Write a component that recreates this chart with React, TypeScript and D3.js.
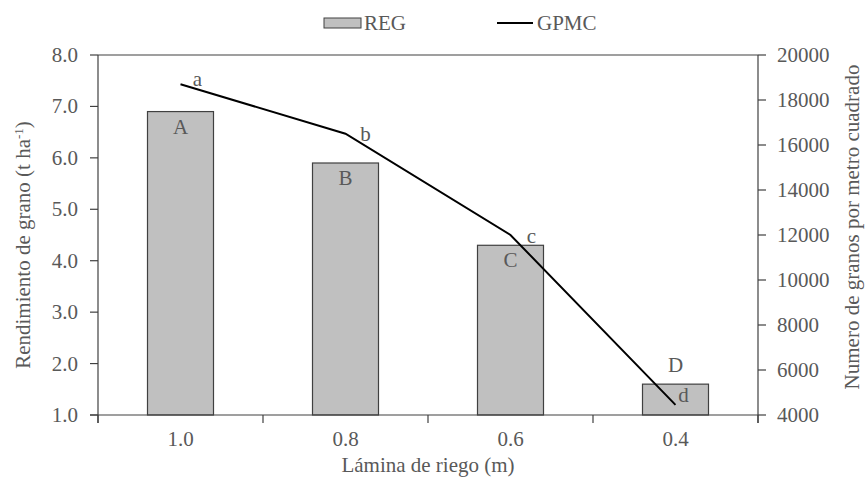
import React from "react";
import * as d3 from "d3";

const categories = ["1.0", "0.8", "0.6", "0.4"];
const regValues = [6.9, 5.9, 4.3, 1.6];
const gpmcValues = [18700, 16500, 12000, 4450];
const barLetters = ["A", "B", "C", "D"];
const lineLetters = ["a", "b", "c", "d"];
const leftTicks = [1, 2, 3, 4, 5, 6, 7, 8];
const rightTicks = [4000, 6000, 8000, 10000, 12000, 14000, 16000, 18000, 20000];

const W = 866, H = 477;
const M = { left: 98, right: 758, top: 55, bottom: 415 };
const FONT = "'Liberation Serif', 'Times New Roman', Times, serif";
const TXT = "#595959";
const AX = "#404040";
const FS = 21;

// label placement (styling, not data)
const barLabelAbove = [false, false, false, true];
const lineLabelDx = [17, 20, 21, 8];
const lineLabelDy = [2, 7, 8, -3];

export default function App() {
  const xOuter = d3.scaleBand<string>().domain(categories).range([M.left, M.right]);
  const yL = d3.scaleLinear().domain([1, 8]).range([M.bottom, M.top]);
  const yR = d3.scaleLinear().domain([4000, 20000]).range([M.bottom, M.top]);
  const cxOf = (i: number) => (xOuter(categories[i]) as number) + xOuter.bandwidth() / 2;
  const line = d3
    .line<number>()
    .x((_, i) => cxOf(i))
    .y((d) => yR(d));
  const bw = xOuter.bandwidth() * 0.4;
  const boundaries = [...categories.map((c) => xOuter(c) as number), M.right];
  const ts = { fontFamily: FONT };

  return (
    <svg width={W} height={H} style={{ position: "absolute", left: 0, top: 0, fontFamily: FONT }}>
      <rect width={W} height={H} fill="#fff" />
      {/* legend */}
      <rect x={324} y={18} width={37} height={10} fill="#c0c0c0" stroke={AX} strokeWidth={1} />
      <text x={364} y={30} fontSize={FS} fill={TXT} style={ts}>REG</text>
      <line x1={497} x2={533} y1={23} y2={23} stroke="#000" strokeWidth={2} />
      <text x={537} y={30} fontSize={FS} fill={TXT} style={ts}>GPMC</text>

      {/* bars */}
      {regValues.map((v, i) => {
        const cx = cxOf(i);
        return (
          <g key={i}>
            <rect x={cx - bw / 2} y={yL(v)} width={bw} height={yL(1) - yL(v)} fill="#c0c0c0" stroke={AX} strokeWidth={1.2} />
            <text x={cx} y={barLabelAbove[i] ? yL(v) - 12 : yL(v) + 22} fontSize={FS} fill={TXT} textAnchor="middle" style={ts}>
              {barLetters[i]}
            </text>
          </g>
        );
      })}

      {/* frame */}
      <line x1={M.left} x2={M.right} y1={M.top} y2={M.top} stroke={AX} strokeWidth={1.2} />
      <line x1={M.left - 8} x2={M.right} y1={M.bottom} y2={M.bottom} stroke={AX} strokeWidth={1.2} />
      <line x1={M.left} x2={M.left} y1={M.top} y2={M.bottom + 8} stroke={AX} strokeWidth={1.2} />
      <line x1={M.right} x2={M.right} y1={M.top} y2={M.bottom + 8} stroke={AX} strokeWidth={1.2} />

      {/* left ticks */}
      {leftTicks.map((t) => (
        <g key={t}>
          <line x1={M.left - 8} x2={M.left} y1={yL(t)} y2={yL(t)} stroke={AX} strokeWidth={1.2} />
          <text x={78} y={yL(t) + 7} fontSize={FS} fill={TXT} textAnchor="end" style={ts}>{t.toFixed(1)}</text>
        </g>
      ))}
      {/* right ticks */}
      {rightTicks.map((t) => (
        <g key={t}>
          <line x1={M.right} x2={M.right + 8} y1={yR(t)} y2={yR(t)} stroke={AX} strokeWidth={1.2} />
          <text x={777} y={yR(t) + 7} fontSize={FS} fill={TXT} style={ts}>{t}</text>
        </g>
      ))}
      {/* x ticks */}
      {boundaries.map((b, i) => (
        <line key={i} x1={b} x2={b} y1={M.bottom} y2={M.bottom + 8} stroke={AX} strokeWidth={1.2} />
      ))}
      {categories.map((c, i) => (
        <text key={c} x={cxOf(i)} y={446} fontSize={FS} fill={TXT} textAnchor="middle" style={ts}>
          {c}
        </text>
      ))}

      {/* line */}
      <path d={line(gpmcValues) || ""} fill="none" stroke="#000" strokeWidth={2} />
      {gpmcValues.map((v, i) => (
        <text key={i} x={cxOf(i) + lineLabelDx[i]} y={yR(v) + lineLabelDy[i]} fontSize={FS} fill={TXT} textAnchor="middle" style={ts}>
          {lineLetters[i]}
        </text>
      ))}

      {/* axis titles */}
      <text x={428} y={472} fontSize={FS} fill={TXT} textAnchor="middle" style={ts}>Lámina de riego (m)</text>
      <text transform={`translate(30,245) rotate(-90)`} fontSize={FS} fill={TXT} textAnchor="middle" style={ts}>
        Rendimiento de grano (t ha<tspan dy={-7} fontSize={13}>-1</tspan><tspan dy={7}>)</tspan>
      </text>
      <text transform={`translate(859,227) rotate(-90)`} fontSize={FS} fill={TXT} textAnchor="middle" style={ts}>
        Numero de granos por metro cuadrado
      </text>
    </svg>
  );
}
